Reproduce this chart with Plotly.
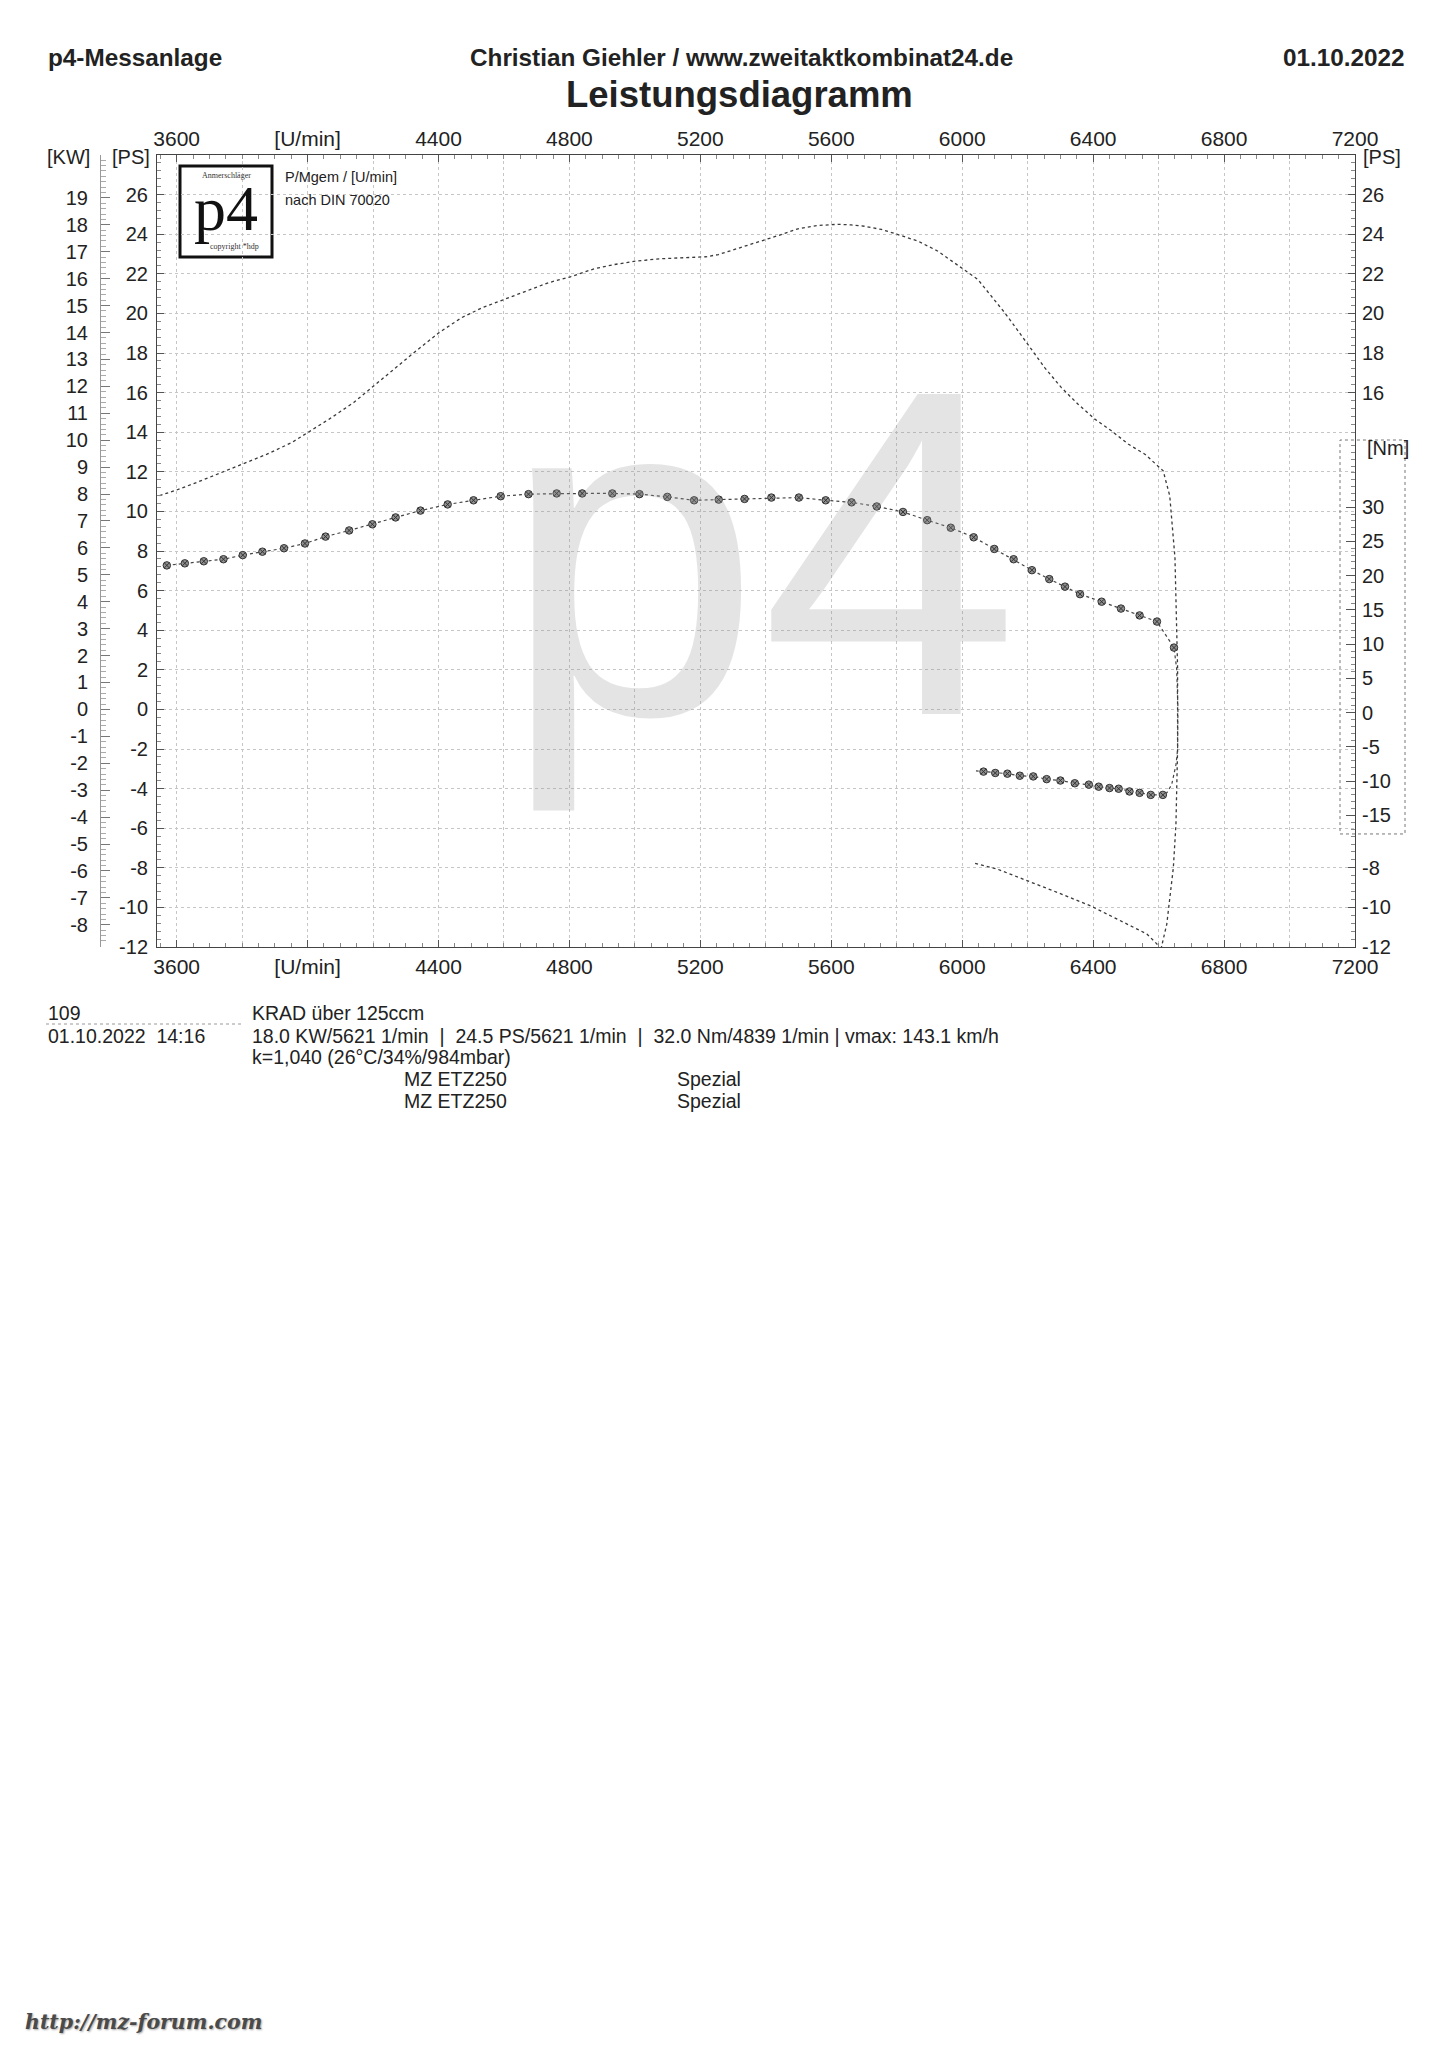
import plotly.graph_objects as go

# ---------------- data ----------------
rpm_tick_vals = [3600, 4000, 4400, 4800, 5200, 5600, 6000, 6400, 6800, 7200]
rpm_tick_text = ["3600", "[U/min]", "4400", "4800", "5200", "5600", "6000", "6400", "6800", "7200"]
ps_ticks_left = [-12, -10, -8, -6, -4, -2, 0, 2, 4, 6, 8, 10, 12, 14, 16, 18, 20, 22, 24, 26]
ps_ticks_right = [-12, -10, -8, 16, 18, 20, 22, 24, 26]
kw_ticks = list(range(-8, 20))
nm_ticks = [-15, -10, -5, 0, 5, 10, 15, 20, 25, 30]

# power curve [PS] (run-up, drop, coast-down)
power_rpm = [3548, 3600, 3661, 3724, 3800, 3876, 3952, 4002, 4066, 4141, 4202, 4268, 4331,
             4402, 4470, 4534, 4601, 4673, 4736, 4803, 4875, 4938, 5002, 5078, 5154, 5217,
             5255, 5306, 5369, 5432, 5498, 5559, 5621, 5661, 5702, 5753, 5804, 5865, 5926,
             5997, 6048, 6089, 6130, 6171, 6211, 6252, 6303, 6354, 6405, 6456, 6507, 6558,
             6614, 6634, 6650, 6658, 6658, 6653, 6645, 6625, 6606,
             6595, 6564, 6483, 6392, 6290, 6189, 6108, 6039]
power_ps = [10.80, 11.08, 11.46, 11.88, 12.39, 12.89, 13.48, 13.98, 14.66, 15.50, 16.34, 17.26, 18.10,
            19.03, 19.78, 20.29, 20.71, 21.18, 21.55, 21.85, 22.25, 22.47, 22.64, 22.76, 22.81, 22.86,
            22.97, 23.23, 23.56, 23.90, 24.27, 24.44, 24.50, 24.47, 24.40, 24.24, 23.98, 23.65, 23.14,
            22.30, 21.71, 20.87, 20.03, 19.11, 18.18, 17.26, 16.25, 15.41, 14.66, 14.07, 13.40, 12.89,
            12.05, 10.79, 7.65, 2.1, -2.0, -5.8, -8.0, -10.84, -12.2,
            -11.85, -11.34, -10.67, -9.92, -9.24, -8.57, -8.07, -7.78]

# torque [Nm] measured points (dots) - run-up
torque_rpm_up = [3570, 3625, 3683, 3743, 3802, 3862, 3928, 3992, 4055, 4127, 4198, 4269, 4345,
                 4428, 4507, 4590, 4675, 4761, 4839, 4931, 5014, 5099, 5181, 5256, 5335, 5417,
                 5501, 5583, 5662, 5739, 5819, 5893, 5965, 6035, 6098, 6157, 6213, 6266, 6314,
                 6360, 6426, 6485, 6542, 6595, 6647]
torque_nm_up = [21.5, 21.8, 22.1, 22.4, 23.0, 23.5, 24.0, 24.7, 25.7, 26.6, 27.5, 28.5, 29.5,
                30.4, 31.0, 31.6, 31.9, 32.0, 32.0, 32.0, 31.9, 31.5, 31.0, 31.1, 31.2, 31.4,
                31.4, 31.0, 30.7, 30.1, 29.3, 28.1, 27.0, 25.6, 23.9, 22.4, 20.8, 19.5, 18.4,
                17.3, 16.2, 15.2, 14.2, 13.3, 9.5]
# torque transition (line only)
torque_rpm_bend = [6655, 6659, 6658, 6653, 6640, 6625]
torque_nm_bend = [6.5, 0.7, -5.4, -7.6, -10.5, -11.7]
# torque coast-down dots
torque_rpm_down = [6613, 6576, 6542, 6511, 6478, 6450, 6417, 6387, 6344, 6300, 6258, 6217,
                   6176, 6138, 6101, 6065]
torque_nm_down = [-12.0, -12.0, -11.7, -11.5, -11.1, -11.0, -10.8, -10.5, -10.3, -9.9, -9.7,
                  -9.3, -9.2, -8.9, -8.8, -8.6]
torque_rpm_end = [6042]
torque_nm_end = [-8.5]

# ---------------- geometry helpers ----------------
W, H = 1449, 2048
OFF = 8                      # page margin of the html body
L, R, T, B = 52, 102, 147, 1109
PW, PH = W - L - R, H - T - B


def px(x):
    """page pixel x -> paper x"""
    return (x - OFF - L) / PW


def py(y):
    """page pixel y -> paper y"""
    return (H - B - (y - OFF)) / PH


PS_PER_KW = 1.35962
ps_range = [-12, 28]
kw_range = [ps_range[0] / PS_PER_KW, ps_range[1] / PS_PER_KW]
nm_range = [-34.2, 81.4]
x_range = [3540, 7200]

FONT = "Liberation Sans, Arial, sans-serif"
NARROW = "Liberation Sans Narrow, Arial Narrow, Liberation Sans, sans-serif"
INK = "#222"
GRID = "#c6c6c6"


def lab(v):
    return str(v)  # plain hyphen minus like the original


# x ticks every 200 rpm (grid), labels every 400
grid_vals = list(range(x_range[0] + 60, x_range[1] + 1, 200))
grid_text = [rpm_tick_text[rpm_tick_vals.index(v)] if v in rpm_tick_vals else "" for v in grid_vals]
x_minor = list(range(3550, 7200, 50))

fig = go.Figure()

fig.add_trace(go.Scatter(x=power_rpm, y=power_ps, mode="lines", xaxis="x", yaxis="y",
                         line=dict(color="#3a3a3a", width=1.3, dash="dot"), hoverinfo="skip"))

t_line_x = torque_rpm_up + torque_rpm_bend + torque_rpm_down + torque_rpm_end
t_line_y = torque_nm_up + torque_nm_bend + torque_nm_down + torque_nm_end
fig.add_trace(go.Scatter(x=t_line_x, y=t_line_y, mode="lines", xaxis="x", yaxis="y5",
                         line=dict(color="#444", width=1.2, dash="dot"), hoverinfo="skip"))
fig.add_trace(go.Scatter(x=torque_rpm_up + torque_rpm_down, y=torque_nm_up + torque_nm_down,
                         mode="markers", xaxis="x", yaxis="y5",
                         marker=dict(symbol="circle-x", size=7.5, color="#8f8f8f",
                                     line=dict(color="#333", width=1)), hoverinfo="skip"))

# helper traces so the extra axes are drawn
fig.add_trace(go.Scatter(x=[None], y=[None], xaxis="x2", yaxis="y", hoverinfo="skip"))
fig.add_trace(go.Scatter(x=[None], y=[None], xaxis="x", yaxis="y3", hoverinfo="skip"))
fig.add_trace(go.Scatter(x=[None], y=[None], xaxis="x", yaxis="y4", hoverinfo="skip"))

tick_font = dict(family=FONT, size=20, color=INK)
xtick_font = dict(family=NARROW, size=21, color=INK)

nm_box_lo, nm_box_hi = nm_ticks[0] - 2.7, nm_ticks[-1] + 9.8
ps_box_lo = (nm_box_lo * 6.852 - 3) / 19.8
ps_box_hi = (nm_box_hi * 6.852 - 3) / 19.8
ps_right_minor = [round(-12 + 0.4 * i, 2) for i in range(101)
                  if (-12 + 0.4 * i) < ps_box_lo or (-12 + 0.4 * i) > ps_box_hi]

common_x = dict(range=x_range, tickmode="array", tickvals=grid_vals, ticktext=grid_text,
                ticks="inside", ticklen=7, tickcolor="#555", tickfont=xtick_font,
                zeroline=False,
                minor=dict(tickmode="array", tickvals=x_minor, ticks="inside", ticklen=4,
                           tickcolor="#888"))

fig.update_layout(
    width=W, height=H,
    margin=dict(l=L, r=R, t=T, b=B, pad=0),
    paper_bgcolor="white", plot_bgcolor="white",
    showlegend=False,
    font=dict(family=FONT, color=INK),
    xaxis=dict(domain=[px(157), 1], anchor="y", side="bottom",
               showline=True, linecolor="#444", linewidth=1, mirror=True,
               showgrid=True, gridcolor=GRID, griddash="dot", gridwidth=1,
               ticklabelstandoff=1, **common_x),
    xaxis2=dict(overlaying="x", anchor="y", side="top", showgrid=False,
                showline=False, ticklabelstandoff=4, **common_x),
    yaxis=dict(range=ps_range, tickmode="array", tickvals=ps_ticks_left,
               ticktext=[lab(v) for v in ps_ticks_left],
               ticks="inside", ticklen=7, tickcolor="#555", tickfont=tick_font,
               showline=True, linecolor="#444", linewidth=1, mirror=True,
               showgrid=True, gridcolor=GRID, griddash="dot", gridwidth=1,
               zeroline=False, anchor="x", side="left", ticklabelstandoff=4,
               minor=dict(tickmode="array", tickvals=[round(-12 + 0.4 * i, 2) for i in range(101)],
                          ticks="inside", ticklen=4, tickcolor="#888")),
    yaxis3=dict(overlaying="y", anchor="free", position=px(100), side="left",
                range=kw_range, tickmode="array", tickvals=kw_ticks,
                ticktext=[lab(v) for v in kw_ticks],
                ticks="inside", ticklen=9, tickcolor="#777", tickfont=tick_font,
                showline=True, linecolor="#999", linewidth=1, showgrid=False,
                zeroline=False, ticklabelstandoff=8,
                minor=dict(tickmode="array",
                           tickvals=[round(-8.8 + 0.2 * i, 2) for i in range(147)],
                           ticks="inside", ticklen=5, tickcolor="#aaa")),
    yaxis4=dict(overlaying="y", anchor="x", side="right", range=ps_range,
                tickmode="array", tickvals=ps_ticks_right,
                ticktext=[lab(v) for v in ps_ticks_right], ticks="inside", ticklen=7,
                tickcolor="#555", tickfont=tick_font, showgrid=False, zeroline=False,
                showline=False, ticklabelstandoff=6,
                minor=dict(tickmode="array", tickvals=ps_right_minor, ticks="inside",
                           ticklen=4, tickcolor="#888")),
    yaxis5=dict(overlaying="y", anchor="x", side="right", range=nm_range,
                tickmode="array", tickvals=nm_ticks, ticktext=[lab(v) for v in nm_ticks],
                ticks="inside", ticklen=9,
                tickcolor="#555", tickfont=tick_font, showgrid=False, zeroline=False,
                showline=False, ticklabelstandoff=6,
                minor=dict(tickmode="array",
                           tickvals=list(range(nm_ticks[0] - 2, nm_ticks[-1] + 10)),
                           ticks="inside", ticklen=4, tickcolor="#888")),
)

ann = []


def text(x, y, s, size=18, xanchor="left", yanchor="middle", weight="normal",
         family=FONT, color=INK, style="normal", xref="paper", yref="paper", shadow=None):
    f = dict(size=size, family=family, color=color, weight=weight, style=style)
    if shadow:
        f["shadow"] = shadow
    ann.append(dict(x=x, y=y, xref=xref, yref=yref, text=s, showarrow=False,
                    xanchor=xanchor, yanchor=yanchor, font=f))


# watermark
text(px(760), py(554), "p4", size=465, xanchor="center", yanchor="middle",
     color="rgba(150,150,150,0.26)")

# header
text(px(46), py(57), "p4-Messanlage", size=24.3, weight="bold")
text(px(741), py(57), "Christian Giehler / www.zweitaktkombinat24.de", size=24.3,
     xanchor="center", weight="bold")
text(px(1407), py(57), "01.10.2022", size=24.3, xanchor="right", weight="bold")
text(px(740), py(94), "Leistungsdiagramm", size=36.5, xanchor="center", weight="bold")

# axis unit labels
text(px(92), py(157), "[KW]", size=20, xanchor="right")
text(px(152), py(157), "[PS]", size=20, xanchor="right")
text(px(1361), py(157), "[PS]", size=20, xanchor="left")
text(px(1365), nm_box_hi - 1.2, "[Nm]", size=20, xanchor="left", yref="y5")

# logo
text(px(226), py(208), "p4", size=64, xanchor="center", family="Liberation Serif, DejaVu Serif, serif",
     color="#111")
text(px(226), py(176), "Anmerschläger", size=8, xanchor="center",
     family="Liberation Serif, serif", color="#333")
text(px(234), py(247), "copyright *hdp", size=8, xanchor="center",
     family="Liberation Serif, serif", color="#333")
text(px(283), py(177), "P/Mgem / [U/min]", size=14.5)
text(px(283), py(200), "nach DIN 70020", size=14.5)

# info block
NB = "\u00a0"
FS = 19.5
text(px(46), py(1013), "109", size=FS)
text(px(250), py(1013), "KRAD über 125ccm", size=FS)
text(px(46), py(1036), "01.10.2022" + NB * 2 + "14:16", size=FS)
text(px(250), py(1036),
     "18.0 KW/5621 1/min" + NB * 2 + "|" + NB * 2 + "24.5 PS/5621 1/min" + NB * 2 + "|" + NB * 2
     + "32.0 Nm/4839 1/min | vmax: 143.1 km/h", size=FS)
text(px(250), py(1057), "k=1,040 (26°C/34%/984mbar)", size=FS)
text(px(402), py(1079), "MZ ETZ250", size=FS)
text(px(675), py(1079), "Spezial", size=FS)
text(px(402), py(1101), "MZ ETZ250", size=FS)
text(px(675), py(1101), "Spezial", size=FS)

# footer
text(px(23), py(2022), "http://mz-forum.com", size=20.5, family="DejaVu Serif, Liberation Serif, serif",
     weight="bold", style="italic", color="#4a4a4a", shadow="1px 1px 2px rgba(0,0,0,0.35)")

fig.update_layout(annotations=ann)

shapes = [
    # logo box
    dict(type="rect", xref="paper", yref="paper", x0=px(180), x1=px(272), y0=py(257), y1=py(166),
         line=dict(color="#111", width=3), fillcolor="white", layer="below"),
    # torque scale box
    dict(type="rect", xref="paper", yref="y5", x0=px(1340), x1=px(1405),
         y0=nm_box_lo, y1=nm_box_hi, line=dict(color="#777", width=1, dash="dot"),
         fillcolor="rgba(0,0,0,0)"),
    # dotted separator under "109"
    dict(type="line", xref="paper", yref="paper", x0=px(46), x1=px(244), y0=py(1024), y1=py(1024),
         line=dict(color="#999", width=1, dash="dot")),
]
fig.update_layout(shapes=shapes)

fig.write_html("out.html")
